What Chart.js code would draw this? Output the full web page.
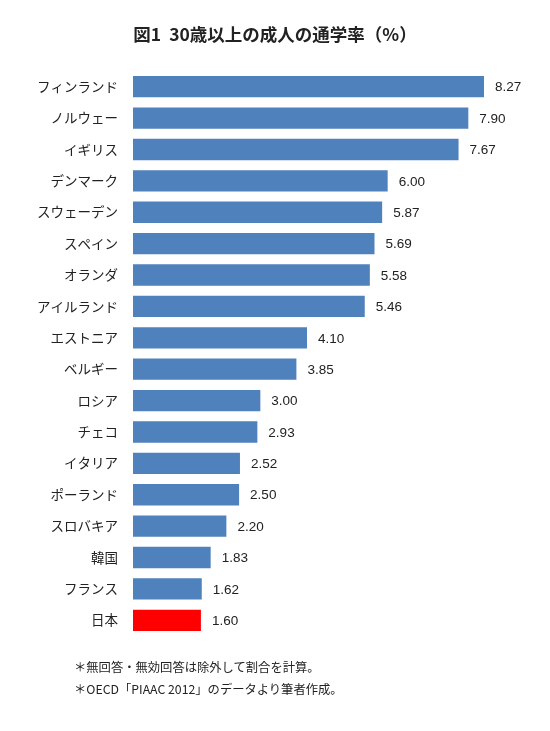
<!DOCTYPE html>
<html>
  <head>
    <meta charset="utf-8">
    <title>30歳以上の成人の通学率</title>
    <script src="https://cdn.jsdelivr.net/npm/chart.js@4"></script>
  </head>

  <style>
body {
  margin: 0;
  background: #fff;
  font-family: "Noto Sans CJK JP", sans-serif;
}

.wrapper {
  position: relative;
  width: 550px;
  height: 731px;
}

h1 {
  position: absolute;
  top: 21px;
  left: 0;
  width: 550px;
  margin: 0;
  text-align: center;
  font-size: 17.5px;
  font-weight: bold;
  color: #222;
}

.notes {
  position: absolute;
  top: 656px;
  left: 74px;
  font-size: 12.3px;
  line-height: 22px;
  color: #222;
}
  </style>

  <body>
    <div class="wrapper">
      <canvas id="myChart" width="550" height="731"></canvas>
      <h1>図1&nbsp;&nbsp;30歳以上の成人の通学率（%）</h1>
      <div class="notes">
        ＊無回答・無効回答は除外して割合を計算。<br>
        ＊OECD「PIAAC 2012」のデータより筆者作成。
      </div>
    </div>

    <script>
// countries, top to bottom
var countries = ['フィンランド', 'ノルウェー', 'イギリス', 'デンマーク', 'スウェーデン', 'スペイン',
                 'オランダ', 'アイルランド', 'エストニア', 'ベルギー', 'ロシア', 'チェコ',
                 'イタリア', 'ポーランド', 'スロバキア', '韓国', 'フランス', '日本'];
// enrolment rate (%)
var rates = [8.27, 7.90, 7.67, 6.00, 5.87, 5.69, 5.58, 5.46, 4.10, 3.85,
             3.00, 2.93, 2.52, 2.50, 2.20, 1.83, 1.62, 1.60];

var barColors = countries.map(function (c) {
  return c === '日本' ? '#ff0000' : '#4f81bd';
});

// draw the value next to each bar
var valueLabels = {
  id: 'valueLabels',
  afterDatasetsDraw: function (chart) {
    var ctx = chart.ctx;
    var meta = chart.getDatasetMeta(0);
    ctx.save();
    ctx.fillStyle = '#222';
    ctx.font = '13.5px "Liberation Sans", sans-serif';
    ctx.textBaseline = 'middle';
    meta.data.forEach(function (bar, i) {
      ctx.fillText(rates[i].toFixed(2), bar.x + 11, bar.y + 1);
    });
    ctx.restore();
  }
};

var ctx = document.getElementById('myChart').getContext('2d');
var myChart = new Chart(ctx, {
  type: 'bar',
  data: {
    labels: countries,
    datasets: [{
      data: rates,
      backgroundColor: barColors,
      borderWidth: 0,
      categoryPercentage: 1,
      barPercentage: 0.68
    }]
  },
  options: {
    indexAxis: 'y',
    responsive: false,
    animation: false,
    layout: { padding: { top: 71, bottom: 95, left: 0, right: 35 } },
    plugins: {
      legend: { display: false },
      tooltip: { enabled: false }
    },
    scales: {
      x: {
        display: false,
        min: 0,
        max: 9
      },
      y: {
        grid: { display: false },
        border: { display: false },
        ticks: {
          color: '#222',
          padding: 7,
          font: { family: '"Noto Sans CJK JP", sans-serif', size: 13.5 }
        },
        afterFit: function (scale) { scale.width = 133; }
      }
    }
  },
  plugins: [valueLabels]
});
    </script>
  </body>
</html>
